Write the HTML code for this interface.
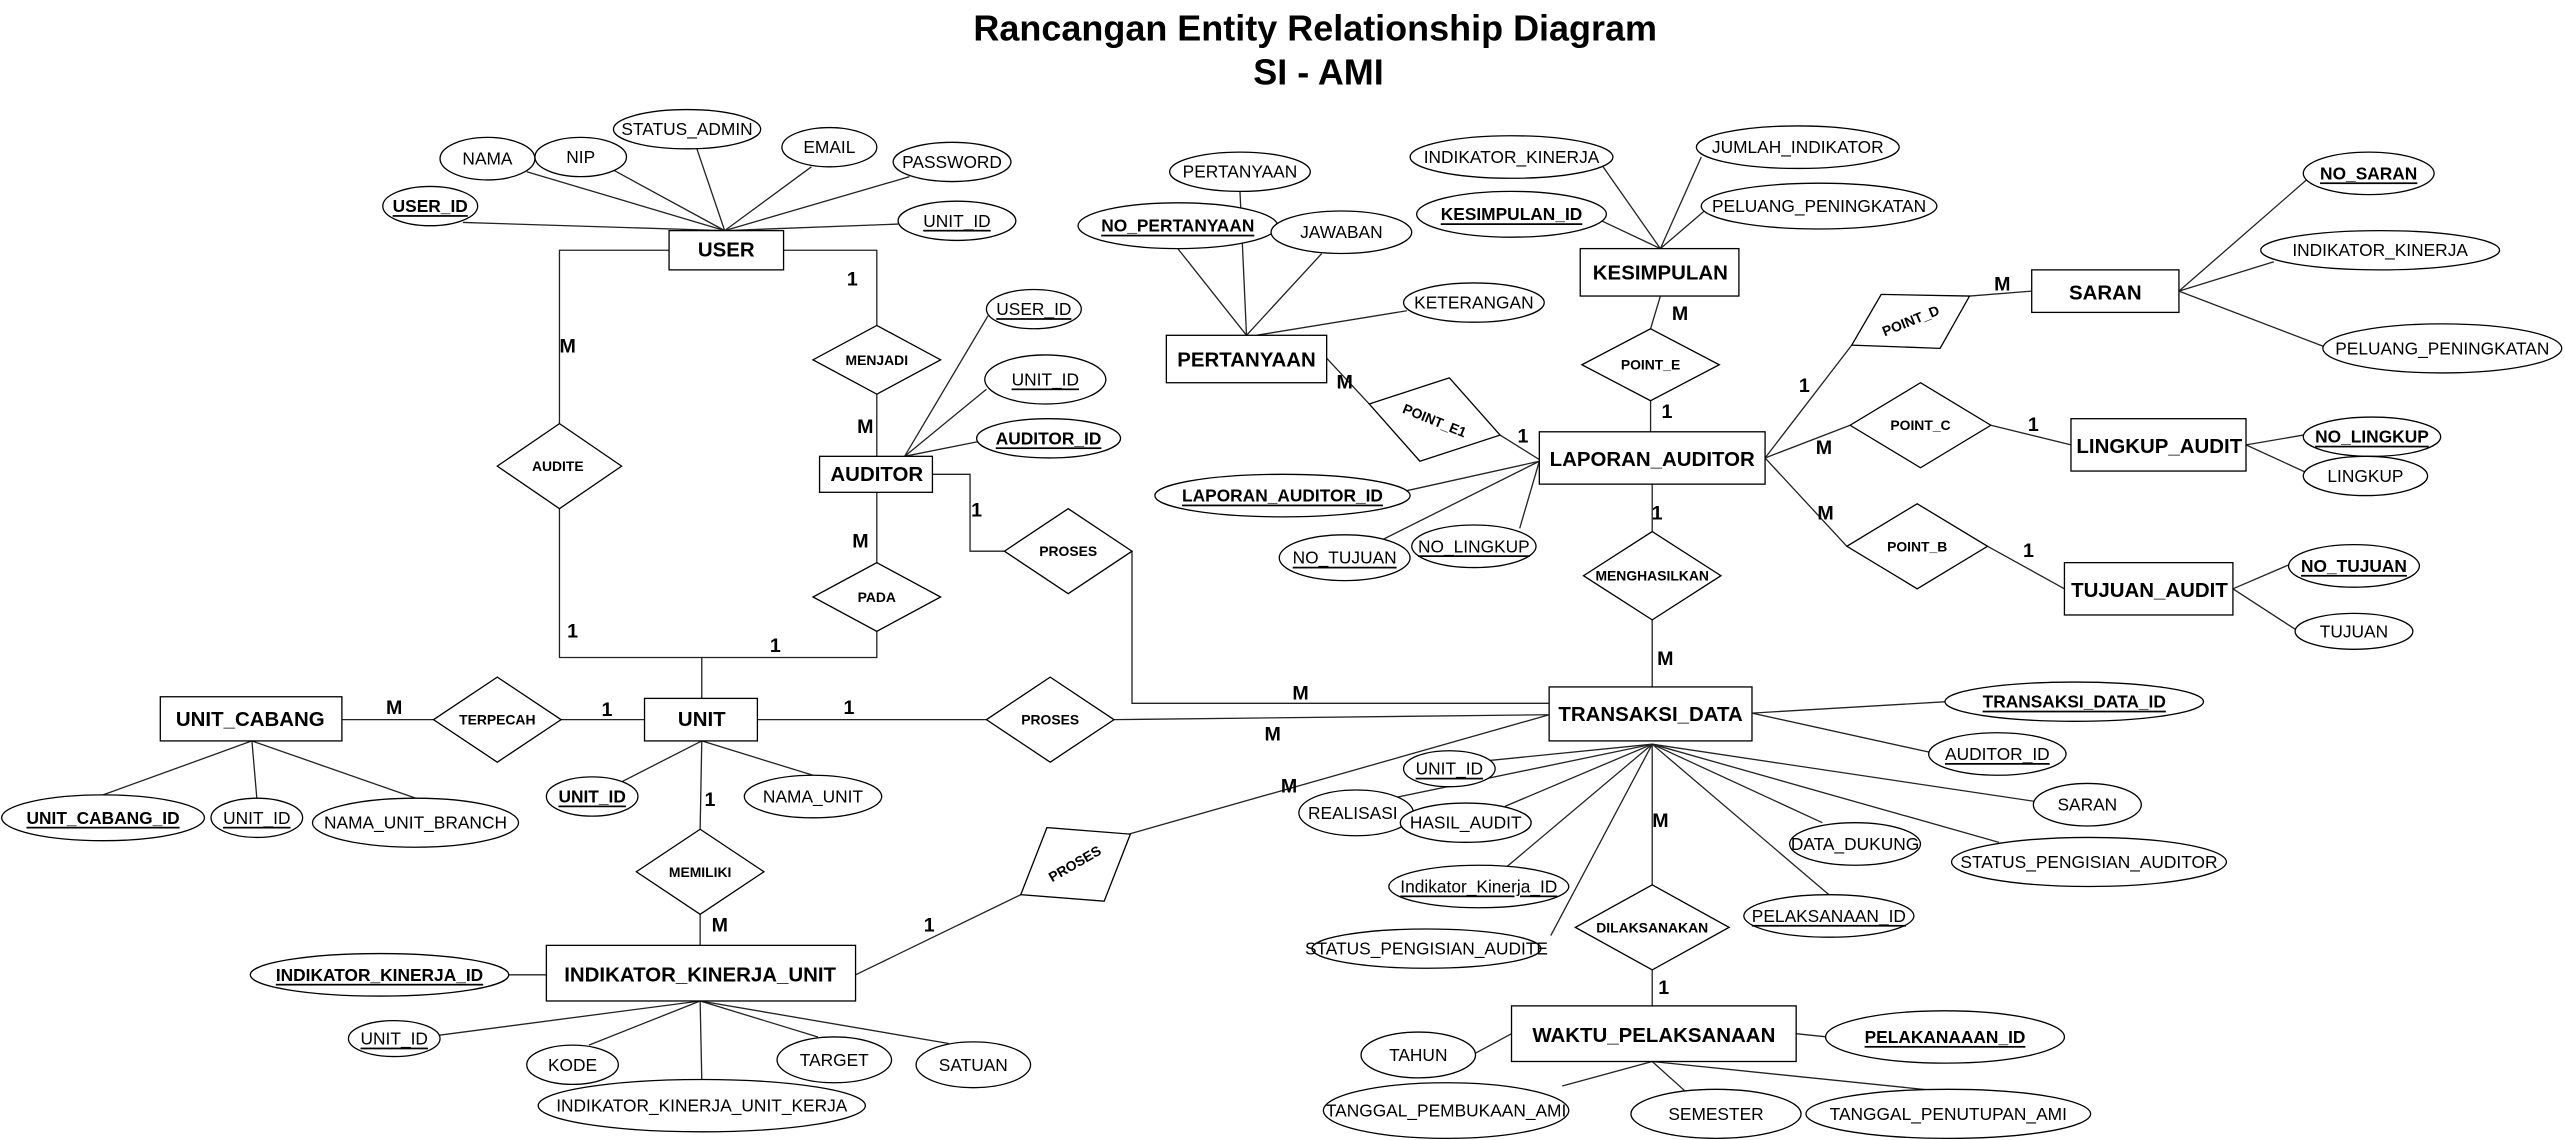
<!DOCTYPE html>
<html><head><meta charset="utf-8"><style>
html,body{margin:0;padding:0;background:#fff;}
svg{display:block;}
text{font-family:"Liberation Sans",Arial,sans-serif;}
.a{font-size:10.6px;text-anchor:middle;dominant-baseline:central;}
.u{text-decoration:underline;}
.b{font-weight:bold;}
.e{font-size:12.5px;font-weight:bold;text-anchor:middle;dominant-baseline:central;}
.r{font-size:8.5px;font-weight:bold;text-anchor:middle;dominant-baseline:central;}
.c{font-size:12px;font-weight:bold;text-anchor:middle;dominant-baseline:central;}
ellipse,rect,polygon{fill:#fff;stroke:#000;stroke-width:0.8;}
line,polyline{stroke:#222;stroke-width:0.8;fill:none;}
</style></head><body>
<svg width="2565" height="1140" viewBox="0 0 1568 697" preserveAspectRatio="none" xmlns="http://www.w3.org/2000/svg">
<text x="804" y="17" style="font-size:22px;font-weight:bold;text-anchor:middle;dominant-baseline:central">Rancangan Entity Relationship Diagram</text>
<text x="806" y="44" style="font-size:22px;font-weight:bold;text-anchor:middle;dominant-baseline:central">SI - AMI</text>

<g>
<line x1="283" y1="136" x2="443" y2="141"/><line x1="322" y1="105" x2="443" y2="141"/><line x1="375" y1="104" x2="443" y2="141"/><line x1="426" y1="91" x2="443" y2="141"/><line x1="496" y1="102" x2="443" y2="141"/><line x1="556" y1="108" x2="443" y2="141"/><line x1="549" y1="137" x2="443" y2="141"/>
<polyline points="409,153 342,153 342,259"/><polyline points="342,311 342,402 429,402 429,427"/>
<polyline points="479,153 536,153 536,199"/><line x1="536" y1="241" x2="536" y2="279"/><line x1="536" y1="301" x2="536" y2="344"/><polyline points="536,386 536,402 429,402"/>
<line x1="604" y1="193" x2="553" y2="279"/><line x1="603" y1="238" x2="553" y2="279"/><line x1="598" y1="270" x2="553" y2="279"/>
<polyline points="570,290 593,290 593,337 614,337"/><polyline points="692,337 692,430 947,430"/>
<line x1="463" y1="440" x2="603" y2="440"/><line x1="681" y1="440" x2="947" y2="437"/>
<line x1="209" y1="440" x2="265" y2="440"/><line x1="343" y1="440" x2="394" y2="440"/>
<line x1="154" y1="453" x2="63" y2="486"/><line x1="154" y1="453" x2="157" y2="488"/><line x1="154" y1="453" x2="254" y2="488"/>
<line x1="429" y1="453" x2="380" y2="478"/><line x1="429" y1="453" x2="497" y2="474"/>
<line x1="429" y1="453" x2="428" y2="507"/><line x1="428" y1="559" x2="428" y2="578"/>
<line x1="311" y1="596" x2="334" y2="596"/>
<line x1="428" y1="612" x2="268" y2="633"/><line x1="428" y1="612" x2="360" y2="639"/><line x1="428" y1="612" x2="429" y2="660"/><line x1="428" y1="612" x2="500" y2="634"/><line x1="428" y1="612" x2="580" y2="638"/>
<line x1="523" y1="596" x2="624" y2="547"/><line x1="690" y1="510" x2="947" y2="437"/>
<line x1="758" y1="117" x2="762" y2="205"/><line x1="720" y1="152" x2="762" y2="205"/><line x1="808" y1="155" x2="762" y2="205"/><line x1="860" y1="190" x2="768" y2="205"/>
<line x1="811" y1="219" x2="837" y2="247"/><line x1="917" y1="266" x2="941" y2="281"/>
<line x1="980" y1="102" x2="1015" y2="152"/><line x1="979" y1="135" x2="1015" y2="152"/><line x1="1040" y1="96" x2="1015" y2="152"/><line x1="1043" y1="128" x2="1015" y2="152"/>
<line x1="1015" y1="181" x2="1009" y2="201"/><line x1="1009" y1="245" x2="1009" y2="264"/>
<line x1="860" y1="300" x2="941" y2="282"/><line x1="845" y1="330" x2="941" y2="282"/><line x1="929" y1="323" x2="941" y2="282"/>
<line x1="1010" y1="296" x2="1010" y2="325"/><line x1="1010" y1="379" x2="1010" y2="420"/>
<line x1="1079" y1="280" x2="1132" y2="211"/><line x1="1204" y1="181" x2="1242" y2="178"/>
<line x1="1079" y1="280" x2="1131" y2="260"/><line x1="1217" y1="260" x2="1266" y2="272"/>
<line x1="1079" y1="280" x2="1129" y2="334"/><line x1="1215" y1="334" x2="1262" y2="360"/>
<line x1="1332" y1="178" x2="1410" y2="110"/><line x1="1332" y1="178" x2="1390" y2="160"/><line x1="1332" y1="178" x2="1421" y2="212"/>
<line x1="1373" y1="272" x2="1408" y2="266"/><line x1="1373" y1="272" x2="1410" y2="289"/>
<line x1="1365" y1="360" x2="1400" y2="345"/><line x1="1365" y1="360" x2="1405" y2="386"/>
<line x1="1071" y1="436" x2="1190" y2="429"/><line x1="1071" y1="436" x2="1180" y2="460"/>
<line x1="1010" y1="455" x2="1244" y2="490"/><line x1="1010" y1="455" x2="1222" y2="515"/><line x1="1010" y1="455" x2="1114" y2="503"/><line x1="1010" y1="455" x2="1118" y2="547"/><line x1="1010" y1="455" x2="948" y2="572"/><line x1="1010" y1="455" x2="921" y2="530"/><line x1="1010" y1="455" x2="920" y2="493"/><line x1="1010" y1="455" x2="851" y2="488"/><line x1="1010" y1="455" x2="910" y2="465"/>
<line x1="1010" y1="455" x2="1010" y2="541"/><line x1="1010" y1="593" x2="1010" y2="615"/>
<line x1="900" y1="645" x2="924" y2="632"/><line x1="1098" y1="632" x2="1117" y2="634"/>
<line x1="1010" y1="649" x2="955" y2="664"/><line x1="1010" y1="649" x2="1030" y2="667"/><line x1="1010" y1="649" x2="1185" y2="667"/>
</g>

<rect x="409" y="141" width="70" height="24"/><text class="e" x="444" y="153">USER</text>
<rect x="501" y="279" width="69" height="22"/><text class="e" x="536" y="290">AUDITOR</text>
<rect x="98" y="426" width="111" height="27"/><text class="e" x="153" y="440">UNIT_CABANG</text>
<rect x="394" y="427" width="69" height="26"/><text class="e" x="429" y="440">UNIT</text>
<rect x="334" y="578" width="189" height="34"/><text class="e" x="428" y="596">INDIKATOR_KINERJA_UNIT</text>
<rect x="713" y="205" width="98" height="29"/><text class="e" x="762" y="220">PERTANYAAN</text>
<rect x="966" y="152" width="97" height="29"/><text class="e" x="1015" y="167">KESIMPULAN</text>
<rect x="941" y="264" width="138" height="32"/><text class="e" x="1010" y="281">LAPORAN_AUDITOR</text>
<rect x="1242" y="165" width="90" height="26"/><text class="e" x="1287" y="179">SARAN</text>
<rect x="1266" y="256" width="107" height="32"/><text class="e" x="1320" y="273">LINGKUP_AUDIT</text>
<rect x="1262" y="344" width="103" height="32"/><text class="e" x="1314" y="361">TUJUAN_AUDIT</text>
<rect x="947" y="420" width="124" height="33"/><text class="e" x="1009" y="437">TRANSAKSI_DATA</text>
<rect x="924" y="615" width="174" height="34"/><text class="e" x="1011" y="633">WAKTU_PELAKSANAAN</text>

<polygon points="536,199 575,220 536,241 497,220"/><text class="r" x="536" y="220">MENJADI</text>
<polygon points="342,259 380,285 342,311 304,285"/><text class="r" x="341" y="285">AUDITE</text>
<polygon points="536,344 575,365 536,386 497,365"/><text class="r" x="536" y="365">PADA</text>
<polygon points="653,311 692,337 653,363 614,337"/><text class="r" x="653" y="337">PROSES</text>
<polygon points="304,414 343,440 304,466 265,440"/><text class="r" x="304" y="440">TERPECAH</text>
<polygon points="642,414 681,440 642,466 603,440"/><text class="r" x="642" y="440">PROSES</text>
<polygon points="428,507 467,533 428,559 389,533"/><text class="r" x="428" y="533">MEMILIKI</text>
<polygon points="1009,201 1051,223 1009,245 967,223"/><text class="r" x="1009" y="223">POINT_E</text>
<polygon points="1010,325 1052,352 1010,379 968,352"/><text class="r" x="1010" y="352">MENGHASILKAN</text>
<polygon points="1174,234 1217,260 1174,286 1131,260"/><text class="r" x="1174" y="260">POINT_C</text>
<polygon points="1172,308 1215,334 1172,360 1129,334"/><text class="r" x="1172" y="334">POINT_B</text>
<polygon points="1010,541 1057,567 1010,593 963,567"/><text class="r" x="1010" y="567">DILAKSANAKAN</text>
<polygon points="837,247 886,231 917,266 868,282"/><text class="r" transform="translate(877,257) rotate(22)" x="0" y="0">POINT_E1</text>
<polygon points="1132,211 1150,180 1204,181 1186,213"/><text class="r" transform="translate(1168,196) rotate(-22)" x="0" y="0">POINT_D</text>
<polygon points="624,547 640,506 691,510 675,551"/><text class="r" transform="translate(657,528) rotate(-30)" x="0" y="0">PROSES</text>

<ellipse cx="263" cy="126" rx="29" ry="12"/><text class="a b u" x="263" y="126">USER_ID</text>
<ellipse cx="298" cy="97" rx="29" ry="13"/><text class="a" x="298" y="97">NAMA</text>
<ellipse cx="355" cy="96" rx="28" ry="12"/><text class="a" x="355" y="96">NIP</text>
<ellipse cx="420" cy="79" rx="45" ry="12"/><text class="a" x="420" y="79">STATUS_ADMIN</text>
<ellipse cx="507" cy="90" rx="29" ry="12"/><text class="a" x="507" y="90">EMAIL</text>
<ellipse cx="582" cy="99" rx="36" ry="12"/><text class="a" x="582" y="99">PASSWORD</text>
<ellipse cx="585" cy="135" rx="36" ry="12"/><text class="a u" x="585" y="135">UNIT_ID</text>
<ellipse cx="632" cy="189" rx="29" ry="12"/><text class="a u" x="632" y="189">USER_ID</text>
<ellipse cx="639" cy="232" rx="37" ry="15"/><text class="a u" x="639" y="232">UNIT_ID</text>
<ellipse cx="641" cy="268" rx="44" ry="12"/><text class="a b u" x="641" y="268">AUDITOR_ID</text>
<ellipse cx="63" cy="500" rx="62" ry="14"/><text class="a b u" x="63" y="500">UNIT_CABANG_ID</text>
<ellipse cx="157" cy="500" rx="28" ry="12"/><text class="a u" x="157" y="500">UNIT_ID</text>
<ellipse cx="254" cy="503" rx="63" ry="15"/><text class="a" x="254" y="503">NAMA_UNIT_BRANCH</text>
<ellipse cx="362" cy="487" rx="28" ry="12"/><text class="a b u" x="362" y="487">UNIT_ID</text>
<ellipse cx="497" cy="487" rx="42" ry="13"/><text class="a" x="497" y="487">NAMA_UNIT</text>
<ellipse cx="232" cy="596" rx="79" ry="13"/><text class="a b u" x="232" y="596">INDIKATOR_KINERJA_ID</text>
<ellipse cx="241" cy="635" rx="28" ry="11"/><text class="a u" x="241" y="635">UNIT_ID</text>
<ellipse cx="350" cy="651" rx="28" ry="12"/><text class="a" x="350" y="651">KODE</text>
<ellipse cx="429" cy="676" rx="100" ry="16"/><text class="a" x="429" y="676">INDIKATOR_KINERJA_UNIT_KERJA</text>
<ellipse cx="510" cy="648" rx="35" ry="14"/><text class="a" x="510" y="648">TARGET</text>
<ellipse cx="595" cy="651" rx="35" ry="14"/><text class="a" x="595" y="651">SATUAN</text>
<ellipse cx="758" cy="105" rx="43" ry="12"/><text class="a" x="758" y="105">PERTANYAAN</text>
<ellipse cx="720" cy="138" rx="61" ry="14"/><text class="a b u" x="720" y="138">NO_PERTANYAAN</text>
<ellipse cx="820" cy="142" rx="43" ry="13"/><text class="a" x="820" y="142">JAWABAN</text>
<ellipse cx="901" cy="185" rx="43" ry="12"/><text class="a" x="901" y="185">KETERANGAN</text>
<ellipse cx="924" cy="96" rx="62" ry="13"/><text class="a" x="924" y="96">INDIKATOR_KINERJA</text>
<ellipse cx="924" cy="131" rx="58" ry="14"/><text class="a b u" x="924" y="131">KESIMPULAN_ID</text>
<ellipse cx="1099" cy="90" rx="62" ry="13"/><text class="a" x="1099" y="90">JUMLAH_INDIKATOR</text>
<ellipse cx="1112" cy="126" rx="72" ry="14"/><text class="a" x="1112" y="126">PELUANG_PENINGKATAN</text>
<ellipse cx="784" cy="303" rx="78" ry="13"/><text class="a b u" x="784" y="303">LAPORAN_AUDITOR_ID</text>
<ellipse cx="822" cy="341" rx="40" ry="14"/><text class="a u" x="822" y="341">NO_TUJUAN</text>
<ellipse cx="901" cy="334" rx="38" ry="13"/><text class="a u" x="901" y="334">NO_LINGKUP</text>
<ellipse cx="1448" cy="106" rx="40" ry="13"/><text class="a b u" x="1448" y="106">NO_SARAN</text>
<ellipse cx="1455" cy="153" rx="73" ry="12"/><text class="a" x="1455" y="153">INDIKATOR_KINERJA</text>
<ellipse cx="1493" cy="213" rx="73" ry="15"/><text class="a" x="1493" y="213">PELUANG_PENINGKATAN</text>
<ellipse cx="1450" cy="267" rx="42" ry="12"/><text class="a b u" x="1450" y="267">NO_LINGKUP</text>
<ellipse cx="1446" cy="291" rx="38" ry="12"/><text class="a" x="1446" y="291">LINGKUP</text>
<ellipse cx="1439" cy="346" rx="40" ry="13"/><text class="a b u" x="1439" y="346">NO_TUJUAN</text>
<ellipse cx="1439" cy="386" rx="36" ry="11"/><text class="a" x="1439" y="386">TUJUAN</text>
<ellipse cx="1268" cy="429" rx="79" ry="12"/><text class="a b u" x="1268" y="429">TRANSAKSI_DATA_ID</text>
<ellipse cx="1221" cy="461" rx="42" ry="13"/><text class="a u" x="1221" y="461">AUDITOR_ID</text>
<ellipse cx="1276" cy="492" rx="33" ry="13"/><text class="a" x="1276" y="492">SARAN</text>
<ellipse cx="1277" cy="527" rx="84" ry="15"/><text class="a" x="1277" y="527">STATUS_PENGISIAN_AUDITOR</text>
<ellipse cx="1134" cy="516" rx="40" ry="13"/><text class="a" x="1134" y="516">DATA_DUKUNG</text>
<ellipse cx="1118" cy="560" rx="52" ry="13"/><text class="a u" x="1118" y="560">PELAKSANAAN_ID</text>
<ellipse cx="872" cy="580" rx="70" ry="12"/><text class="a" x="872" y="580">STATUS_PENGISIAN_AUDITE</text>
<ellipse cx="904" cy="542" rx="55" ry="13"/><text class="a u" x="904" y="542">Indikator_Kinerja_ID</text>
<ellipse cx="829" cy="497" rx="35" ry="14"/><text class="a" x="827" y="497">REALISASI</text>
<ellipse cx="896" cy="503" rx="40" ry="12"/><text class="a" x="896" y="503">HASIL_AUDIT</text>
<ellipse cx="886" cy="470" rx="28" ry="11"/><text class="a u" x="886" y="470">UNIT_ID</text>
<ellipse cx="867" cy="645" rx="35" ry="14"/><text class="a" x="867" y="645">TAHUN</text>
<ellipse cx="1189" cy="634" rx="73" ry="16"/><text class="a b u" x="1189" y="634">PELAKANAAAN_ID</text>
<ellipse cx="884" cy="679" rx="75" ry="17"/><text class="a" x="884" y="679">TANGGAL_PEMBUKAAN_AMI</text>
<ellipse cx="1049" cy="681" rx="52" ry="15"/><text class="a" x="1049" y="681">SEMESTER</text>
<ellipse cx="1191" cy="681" rx="87" ry="15"/><text class="a" x="1191" y="681">TANGGAL_PENUTUPAN_AMI</text>

<text class="c" x="347" y="212">M</text><text class="c" x="350" y="386">1</text>
<text class="c" x="521" y="171">1</text><text class="c" x="529" y="261">M</text><text class="c" x="526" y="331">M</text><text class="c" x="474" y="395">1</text>
<text class="c" x="597" y="312">1</text><text class="c" x="795" y="424">M</text>
<text class="c" x="519" y="433">1</text><text class="c" x="778" y="449">M</text>
<text class="c" x="241" y="433">M</text><text class="c" x="371" y="434">1</text>
<text class="c" x="434" y="489">1</text><text class="c" x="440" y="566">M</text>
<text class="c" x="568" y="566">1</text><text class="c" x="788" y="481">M</text>
<text class="c" x="822" y="234">M</text><text class="c" x="931" y="267">1</text>
<text class="c" x="1027" y="192">M</text><text class="c" x="1019" y="252">1</text>
<text class="c" x="1013" y="314">1</text><text class="c" x="1018" y="403">M</text>
<text class="c" x="1103" y="236">1</text><text class="c" x="1224" y="174">M</text>
<text class="c" x="1115" y="274">M</text><text class="c" x="1243" y="260">1</text>
<text class="c" x="1116" y="314">M</text><text class="c" x="1240" y="337">1</text>
<text class="c" x="1015" y="502">M</text><text class="c" x="1017" y="604">1</text>
</svg>
</body></html>
